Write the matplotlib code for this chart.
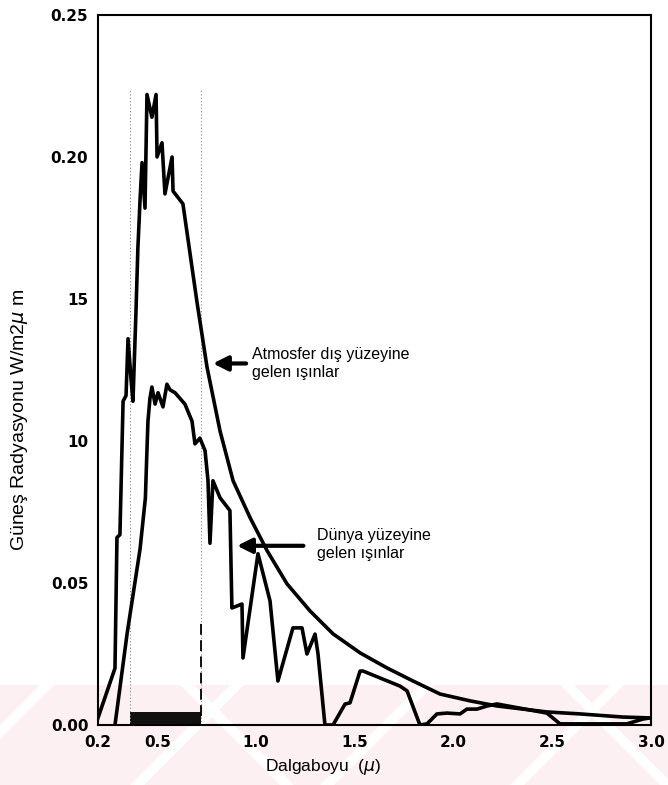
import numpy as np
import matplotlib.pyplot as plt
from matplotlib.patches import Polygon, Rectangle

# wavelength (micron) / irradiance
atm_x = [0.200, 0.286, 0.296, 0.311, 0.327, 0.342, 0.352, 0.367, 0.377, 0.392,
         0.402, 0.413, 0.423, 0.438, 0.448, 0.473, 0.494, 0.499, 0.524, 0.539,
         0.575, 0.580, 0.630, 0.701, 0.752, 0.818, 0.884, 0.970, 1.056, 1.157,
         1.273, 1.390, 1.527, 1.663, 1.795, 1.932, 2.084, 2.220, 2.473, 2.641,
         2.858, 2.995]
atm_y = [0.0025, 0.020, 0.066, 0.067, 0.114, 0.116, 0.136, 0.122, 0.114, 0.145,
         0.168, 0.185, 0.198, 0.182, 0.222, 0.214, 0.222, 0.200, 0.205, 0.187,
         0.200, 0.188, 0.1835, 0.149, 0.126, 0.1035, 0.086, 0.073, 0.0614, 0.0497,
         0.0402, 0.0321, 0.0254, 0.0201, 0.0155, 0.0109, 0.0085, 0.0067, 0.0046, 0.0039,
         0.0028, 0.0025]

earth_x = [0.286, 0.347, 0.413, 0.440, 0.447, 0.453, 0.463, 0.473, 0.489, 0.504,
           0.529, 0.549, 0.565, 0.590, 0.640, 0.676, 0.691, 0.716, 0.742, 0.757,
           0.767, 0.782, 0.803, 0.818, 0.868, 0.878, 0.929, 0.934, 1.010, 1.071,
           1.111, 1.187, 1.233, 1.258, 1.299, 1.314, 1.349, 1.390, 1.451, 1.476,
           1.527, 1.542, 1.729, 1.765, 1.830, 1.866, 1.916, 1.967, 2.033, 2.068,
           2.119, 2.170, 2.220, 2.473, 2.539, 2.878, 2.959, 2.995]
earth_y = [0.0, 0.032, 0.062, 0.080, 0.095, 0.107, 0.115, 0.119, 0.113, 0.117,
           0.112, 0.120, 0.118, 0.117, 0.113, 0.107, 0.099, 0.101, 0.0966, 0.086,
           0.064, 0.086, 0.0825, 0.080, 0.0755, 0.0412, 0.0426, 0.0236, 0.0603, 0.0437,
           0.0155, 0.0342, 0.0342, 0.025, 0.032, 0.025, 0.0, 0.0, 0.0074, 0.0078,
           0.019, 0.019, 0.0137, 0.012, 0.0, 0.0004, 0.0039, 0.0042, 0.0039, 0.0056,
           0.0056, 0.0067, 0.0074, 0.0042, 0.0004, 0.0004, 0.0021, 0.0025]

# visible band limits
vis = [0.362, 0.720]

xticks = [0.2, 0.5, 1.0, 1.5, 2.0, 2.5, 3.0]
xlabels = ['0.2', '0.5', '1.0', '1.5', '2.0', '2.5', '3.0']
yticks = [0.0, 0.05, 0.10, 0.15, 0.20, 0.25]
ylabels = ['0.00', '0.05', '10', '15', '0.20', '0.25']

fig = plt.figure(figsize=(6.68, 7.85), dpi=100)

# faint pink watermark band at the bottom
H = 785.0
W = 668.0
fig.patches.append(Rectangle((0, 0), 1, 100 / H, transform=fig.transFigure,
                             facecolor='#fdf0f2', edgecolor='none', zorder=-10))
for x0 in [-60, 130, 320, 510, 700]:
    pts = [(x0 / W, 0), ((x0 + 14) / W, 0), ((x0 + 114) / W, 100 / H), ((x0 + 100) / W, 100 / H)]
    fig.patches.append(Polygon(pts, closed=True, transform=fig.transFigure,
                               facecolor='white', edgecolor='none', zorder=-9))
for x0 in [180, 560]:
    pts = [(x0 / W, 100 / H), ((x0 + 14) / W, 100 / H), ((x0 + 114) / W, 0), ((x0 + 100) / W, 0)]
    fig.patches.append(Polygon(pts, closed=True, transform=fig.transFigure,
                               facecolor='white', edgecolor='none', zorder=-9))

ax = fig.add_axes([98 / W, 1 - 725 / H, (651 - 98) / W, (725 - 15) / H])
ax.set_facecolor('none')

# visible region markers
for v in vis:
    ax.plot([v, v], [0, 0.224], color='#888888', lw=0.8, ls=(0, (1, 2)))
ax.plot([vis[1], vis[1]], [0.003, 0.036], color='black', lw=1.3, ls=(0, (6, 3)))
ax.add_patch(Rectangle((vis[0], 0), vis[1] - vis[0], 0.0047, facecolor='#111111', edgecolor='none'))

ax.plot(atm_x, atm_y, color='black', lw=2.6)
ax.plot(earth_x, earth_y, color='black', lw=2.6)

ax.annotate('', xy=(0.782, 0.1273), xytext=(0.95, 0.1273),
            arrowprops=dict(arrowstyle='-|>', lw=3, color='black', mutation_scale=22,
                            shrinkA=0, shrinkB=0))
ax.text(0.98, 0.1273, 'Atmosfer dış yüzeyine\ngelen ışınlar', family='Liberation Sans',
        fontsize=11.5, va='center', ha='left', linespacing=1.2)

ax.annotate('', xy=(0.904, 0.0631), xytext=(1.24, 0.0631),
            arrowprops=dict(arrowstyle='-|>', lw=3, color='black', mutation_scale=22,
                            shrinkA=0, shrinkB=0))
ax.text(1.309, 0.0636, 'Dünya yüzeyine\ngelen ışınlar', family='Liberation Sans',
        fontsize=11.5, va='center', ha='left', linespacing=1.2)

ax.set_xlim(0.2, 3.0)
ax.set_ylim(0, 0.25)
ax.set_xticks(xticks)
ax.set_xticklabels(xlabels, fontweight='bold', fontsize=11)
ax.set_yticks(yticks)
ax.set_yticklabels(ylabels, fontweight='bold', fontsize=11)
ax.tick_params(length=0)
ax.tick_params(axis='x', pad=7)
ax.tick_params(axis='y', pad=7)
for s in ax.spines.values():
    s.set_linewidth(1.5)

ax.set_xlabel(r'Dalgaboyu  ($\mu$)', family='Liberation Sans', fontsize=12.5)
ax.xaxis.set_label_coords((323 - 98) / 553, -32 / 710)
ax.set_ylabel(r'Güneş Radyasyonu W/m2$\mu$ m', family='Liberation Sans', fontsize=14)
ax.yaxis.set_label_coords(-68 / 553, (725 - 420) / 710)

fig.savefig('out.png', dpi=100)
